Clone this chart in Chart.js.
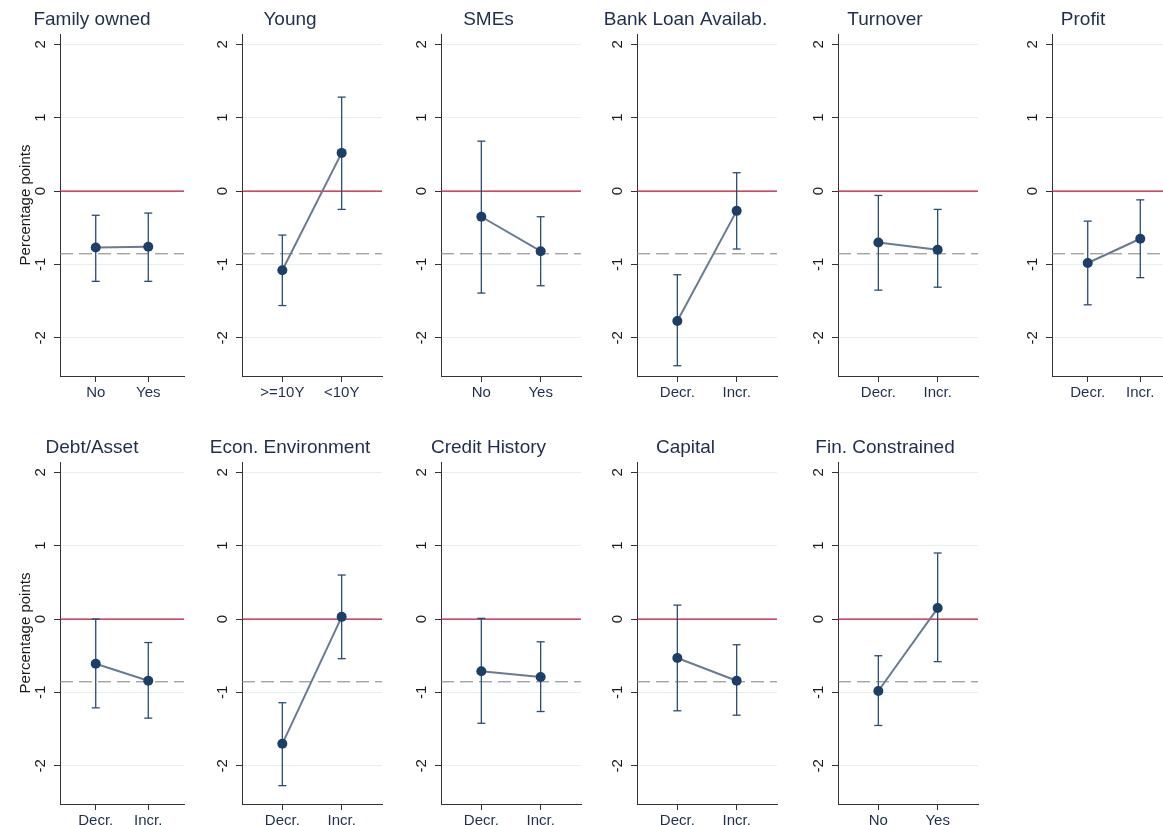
<!DOCTYPE html>
<html>
<head>
<meta charset="utf-8">
<script src="https://cdn.jsdelivr.net/npm/chart.js@4.4.0/dist/chart.umd.min.js"></script>
<style>
  html, body { margin: 0; padding: 0; background: #fff; overflow: hidden; }
  #grid { position: relative; width: 1163px; height: 825px; overflow: hidden; }
  .panel { position: absolute; width: 198px; height: 400px; }
</style>
</head>
<body>
<div id="grid"></div>
<script>
// Marginal effects by firm characteristic (percentage points), with 95% CI
const panelTitles = ['Family owned', 'Young', 'SMEs', 'Bank Loan Availab.', 'Turnover', 'Profit',
                     'Debt/Asset', 'Econ. Environment', 'Credit History', 'Capital', 'Fin. Constrained'];
const groupLabels = [['No', 'Yes'], ['>=10Y', '<10Y'], ['No', 'Yes'], ['Decr.', 'Incr.'], ['Decr.', 'Incr.'], ['Decr.', 'Incr.'],
                     ['Decr.', 'Incr.'], ['Decr.', 'Incr.'], ['Decr.', 'Incr.'], ['Decr.', 'Incr.'], ['No', 'Yes']];
const pointEstimates = [[-0.77, -0.76], [-1.08, 0.52], [-0.35, -0.82], [-1.77, -0.27], [-0.70, -0.80], [-0.98, -0.65],
                        [-0.61, -0.84], [-1.70, 0.03], [-0.71, -0.79], [-0.53, -0.84], [-0.98, 0.15]];
const ciLower = [[-1.23, -1.23], [-1.56, -0.25], [-1.39, -1.29], [-2.38, -0.79], [-1.35, -1.31], [-1.55, -1.18],
                 [-1.21, -1.35], [-2.27, -0.54], [-1.42, -1.26], [-1.25, -1.31], [-1.45, -0.58]];
const ciUpper = [[-0.33, -0.30], [-0.60, 1.28], [0.68, -0.35], [-1.14, 0.25], [-0.06, -0.25], [-0.41, -0.12],
                 [0.00, -0.32], [-1.14, 0.60], [0.01, -0.31], [0.19, -0.35], [-0.50, 0.90]];
const groupPositions = [1, 2];
const yTicks = [-2, -1, 0, 1, 2];
const yRange = [-2.52, 2.14];
const xRange = [0.32, 2.68];
const zeroLine = 0;
const averageEffect = -0.855;

// left offset of the y axis inside each column of the grid
const axisOffsets = [60, 44, 45, 43, 46, 62];

const NAVY = '#1b3f66';
const FONT = '"Liberation Sans", Arial, sans-serif';

// Stata style rotated y tick labels
const rotatedYLabels = {
    id: 'rotatedYLabels',
    afterDraw(chart) {
        const y = chart.scales.y;
        const ctx = chart.ctx;
        ctx.save();
        ctx.font = '15px ' + FONT;
        ctx.fillStyle = '#1a1a1a';
        ctx.textAlign = 'center';
        ctx.textBaseline = 'middle';
        yTicks.forEach(v => {
            const py = y.getPixelForValue(v);
            ctx.save();
            ctx.translate(y.right - 19, py);
            ctx.rotate(-Math.PI / 2);
            ctx.fillText(String(v), 0, 0);
            ctx.restore();
        });
        ctx.restore();
    }
};

function createPanel(i) {
    const col = i % 6;
    const row = Math.floor(i / 6);
    const div = document.createElement('div');
    div.className = 'panel';
    div.style.left = (col * 198) + 'px';
    div.style.top = (row * 427.5) + 'px';
    const canvas = document.createElement('canvas');
    canvas.width = 198;
    canvas.height = 400;
    div.appendChild(canvas);
    document.getElementById('grid').appendChild(div);

    const est = groupPositions.map((x, k) => ({ x: x, y: pointEstimates[i][k] }));
    const bars = groupPositions.map((x, k) => ({
        type: 'line',
        data: [{ x: x, y: ciLower[i][k] }, { x: x, y: ciUpper[i][k] }],
        borderColor: '#2a4d72',
        borderWidth: 1.3,
        pointStyle: 'line',
        pointRadius: 4,
        pointBorderWidth: 1.3,
        pointBorderColor: '#2a4d72'
    }));

    new Chart(canvas.getContext('2d'), {
        type: 'line',
        data: {
            datasets: [
                {
                    data: est,
                    borderColor: '#687b92',
                    borderWidth: 2,
                    pointRadius: 5,
                    pointBackgroundColor: NAVY,
                    pointBorderColor: NAVY,
                    pointBorderWidth: 0
                },
                ...bars,
                {
                    data: [{ x: xRange[0], y: averageEffect }, { x: xRange[1], y: averageEffect }],
                    borderColor: '#7f7f7f',
                    borderWidth: 1,
                    borderDash: [13, 6],
                    pointRadius: 0
                },
                {
                    data: [{ x: xRange[0], y: zeroLine }, { x: xRange[1], y: zeroLine }],
                    borderColor: '#c4123c',
                    borderWidth: 1.3,
                    pointRadius: 0
                }
            ]
        },
        options: {
            responsive: false,
            animation: false,
            layout: { padding: { left: 0, right: 198 - axisOffsets[col] - (col === 0 || col === 5 ? 124 : 140), top: 0, bottom: 0 } },
            plugins: {
                legend: { display: false },
                tooltip: { enabled: false },
                title: {
                    display: true,
                    text: panelTitles[i],
                    color: '#1f2e4f',
                    font: { family: FONT, size: 19, weight: 'normal', lineHeight: 1.2 },
                    padding: { top: 8.6, bottom: 2.6 }
                }
            },
            scales: {
                x: {
                    type: 'linear',
                    min: xRange[0],
                    max: xRange[1],
                    afterBuildTicks: s => { s.ticks = groupPositions.map(v => ({ value: v })); },
                    afterFit: s => { s.height = 24; },
                    grid: { drawOnChartArea: false, drawTicks: true, tickLength: 6, tickColor: '#333' },
                    border: { display: true, color: '#333', width: 1 },
                    ticks: {
                        color: '#1f2e4f',
                        padding: 2,
                        maxRotation: 0,
                        font: { family: FONT, size: 15 },
                        callback: (v, idx) => groupLabels[i][idx]
                    }
                },
                y: {
                    type: 'linear',
                    min: yRange[0],
                    max: yRange[1],
                    afterBuildTicks: s => { s.ticks = yTicks.map(v => ({ value: v })); },
                    afterFit: s => { s.width = axisOffsets[col]; },
                    grid: { color: '#e6eff0', lineWidth: 1, drawTicks: true, tickLength: 6, tickColor: '#333' },
                    border: { display: true, color: '#333', width: 1 },
                    ticks: { display: false },
                    title: {
                        display: col === 0,
                        text: 'Percentage points',
                        color: '#1a1a1a',
                        font: { family: FONT, size: 15 },
                        padding: { top: 16.5, bottom: 0 }
                    }
                }
            }
        },
        plugins: [rotatedYLabels]
    });
}

panelTitles.forEach((t, i) => createPanel(i));
</script>
</body>
</html>
